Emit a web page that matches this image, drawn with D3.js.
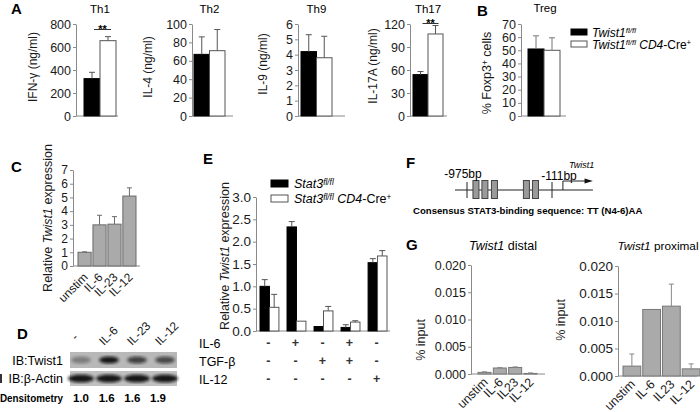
<!DOCTYPE html>
<html><head><meta charset="utf-8">
<script src="https://cdn.jsdelivr.net/npm/d3@7"></script>
<style>body{margin:0;background:#fff}svg{font-family:"Liberation Sans",Arial,sans-serif}</style>
</head><body>
<svg id="c" width="700" height="412"></svg>
<script>
// ---------------- DATA ----------------
const aTitles = ["Th1", "Th2", "Th9", "Th17"];
const aYLabels = ["IFN-γ (ng/ml)", "IL-4 (ng/ml)", "IL-9 (ng/ml)", "IL-17A  (ng/ml)"];
const aFlox = [325, 67, 4.2, 54];
const aFloxErr = [55, 19, 1.1, 4];
const aCre = [655, 71, 3.8, 107];
const aCreErr = [35, 23, 1.4, 11];
const aTicks = [[0, 200, 400, 600, 800], [0, 20, 40, 60, 80, 100], [0, 1, 2, 3, 4, 5, 6], [0, 30, 60, 90, 120]];
const aSig = ["**", "", "", "**"];
const seriesAB = ["flox", "cre"];

const bTitle = "Treg";
const bValues = [51, 50];
const bErr = [10, 9.5];
const bTicks = [0, 10, 20, 30, 40, 50, 60, 70];

const cCats = ["unstim", "IL-6", "IL-23", "IL-12"];
const cValues = [1.0, 3.0, 3.05, 5.1];
const cErr = [0.03, 0.7, 0.55, 0.6];
const cTicks = [0, 1, 2, 3, 4, 5, 6, 7];

const dLanes = ["-", "IL-6", "IL-23", "IL-12"];
const dDensitometry = ["1.0", "1.6", "1.6", "1.9"];
const dTwistBand = [0.35, 0.95, 0.7, 0.65];

const eIL6 = ["-", "+", "-", "+", "-"];
const eTGF = ["-", "-", "+", "+", "-"];
const eIL12 = ["-", "-", "-", "-", "+"];
const eFlox = [1.0, 2.33, 0.1, 0.08, 1.53];
const eFloxErr = [0.15, 0.12, 0, 0.06, 0.09];
const eCre = [0.53, 0.22, 0.45, 0.2, 1.68];
const eCreErr = [0.29, 0, 0.1, 0.03, 0.12];
const eTicks = [0, 0.5, 1.0, 1.5, 2.0, 2.5, 3.0];

const fMarks = [-975, -111];
const fSites = [-884, -793, -696, -371, -279];

const gCats = ["unstim", "IL-6", "IL23", "IL-12"];
const gDistal = [0.0003, 0.0011, 0.0012, 0.0001];
const gDistalErr = [0.0001, 0.0001, 0.0001, 0.0001];
const gProximal = [0.0018, 0.0121, 0.0127, 0.0013];
const gProximalErr = [0.0022, 0, 0.004, 0.0009];
const gTicks = [0, 0.005, 0.010, 0.015, 0.020];

// ---------------- HELPERS ----------------
const svg = d3.select("#c");
const AX = "#8a8a8a";

function rich(t, parts) {
  let shift = 0;
  parts.forEach(p => {
    const ts = t.append("tspan").text(p.t);
    if (p.i) ts.attr("font-style", "italic");
    if (p.b) ts.attr("font-weight", "bold");
    const target = p.sup ? -3.5 : 0;
    if (target !== shift) { ts.attr("dy", target - shift); shift = target; }
    if (p.sup) ts.attr("font-size", "0.66em");
  });
  return t;
}
function letter(x, y, s) {
  svg.append("text").attr("x", x).attr("y", y).attr("font-weight", "bold").attr("font-size", 15).text(s);
}
function yAxis(x, y, ticks, fmt, fs) {
  const g = svg.append("g").attr("transform", `translate(${x},0)`)
    .call(d3.axisLeft(y).tickValues(ticks).tickSizeInner(3).tickSizeOuter(0).tickPadding(2).tickFormat(fmt));
  g.select(".domain").attr("stroke", AX);
  g.selectAll(".tick line").attr("stroke", AX);
  g.selectAll(".tick text").attr("font-size", fs).attr("fill", "#1a1a1a").attr("font-family", null);
  return g;
}
function baseline(x0, x1, yy) {
  svg.append("line").attr("x1", x0).attr("x2", x1).attr("y1", yy).attr("y2", yy).attr("stroke", AX);
}
function err(cx, y, v, e, color, cap) {
  if (!e) return;
  svg.append("line").attr("x1", cx).attr("x2", cx).attr("y1", y(v)).attr("y2", y(v + e)).attr("stroke", color);
  svg.append("line").attr("x1", cx - cap).attr("x2", cx + cap).attr("y1", y(v + e)).attr("y2", y(v + e)).attr("stroke", color);
}
function yLabel(x, y, fs, parts) {
  const t = svg.append("text").attr("transform", `translate(${x},${y}) rotate(-90)`)
    .attr("text-anchor", "middle").attr("font-size", fs).attr("fill", "#1a1a1a");
  rich(t, parts);
}
function rotLabels(xs, cats, yy, fs) {
  cats.forEach((c, i) => {
    svg.append("text").attr("transform", `translate(${xs(c) + xs.bandwidth() / 2 + 4},${yy}) rotate(-45)`)
      .attr("text-anchor", "end").attr("font-size", fs).attr("fill", "#1a1a1a").text(c);
  });
}

// ---------------- PANEL A ----------------
letter(11, 14, "A");
const aLayout = [
  { ax: 76, x0: 84, x1: 116, end: 118, lab: 37, ly: 67, sy: 29.5 },
  { ax: 192, x0: 194, x1: 225, end: 233, lab: 152, ly: 67 },
  { ax: 298, x0: 301, x1: 332, end: 345, lab: 267, ly: 64 },
  { ax: 410, x0: 413, x1: 443, end: 447, lab: 377, ly: 66, sy: 23.5 }
];
aTitles.forEach((title, i) => {
  const L = aLayout[i];
  const y = d3.scaleLinear().domain([0, d3.max(aTicks[i])]).range([116, 24]);
  const x = d3.scaleBand().domain(seriesAB).range([L.x0, L.x1]);
  yAxis(L.ax, y, aTicks[i], d3.format("d"), 12.5);
  baseline(L.ax, L.end, y(0));
  const vals = [aFlox[i], aCre[i]], errs = [aFloxErr[i], aCreErr[i]];
  seriesAB.forEach((s, j) => {
    svg.append("rect").attr("x", x(s)).attr("width", x.bandwidth()).attr("y", y(vals[j]))
      .attr("height", y(0) - y(vals[j])).attr("fill", j ? "#fff" : "#000").attr("stroke", j ? "#555" : "#000");
    err(x(s) + x.bandwidth() / 2, y, vals[j], errs[j], "#555", 3);
  });
  svg.append("text").attr("x", (L.x0 + L.x1) / 2).attr("y", 13).attr("text-anchor", "middle").attr("font-size", 11.5).text(title);
  yLabel(L.lab, L.ly, 12, [{ t: aYLabels[i] }]);
  if (aSig[i]) {
    const sx0 = x("flox") + x.bandwidth() / 2 + 2, sx1 = x("cre") + x.bandwidth() / 2 + 3;
    const sy = L.sy;
    svg.append("line").attr("x1", sx0).attr("x2", sx1).attr("y1", sy).attr("y2", sy).attr("stroke", "#333");
    svg.append("text").attr("x", (sx0 + sx1) / 2).attr("y", sy + 3).attr("text-anchor", "middle")
      .attr("font-size", 11).attr("font-weight", "bold").text(aSig[i]);
  }
});

// ---------------- PANEL B ----------------
letter(477, 16, "B");
{
  const y = d3.scaleLinear().domain([0, 70]).range([116, 24]);
  const x = d3.scaleBand().domain(seriesAB).range([528, 560]);
  yAxis(521, y, bTicks, d3.format("d"), 12.5);
  baseline(521, 566, y(0));
  seriesAB.forEach((s, j) => {
    svg.append("rect").attr("x", x(s)).attr("width", x.bandwidth()).attr("y", y(bValues[j]))
      .attr("height", y(0) - y(bValues[j])).attr("fill", j ? "#fff" : "#000").attr("stroke", j ? "#555" : "#000");
    err(x(s) + x.bandwidth() / 2, y, bValues[j], bErr[j], "#777", 3);
  });
  svg.append("text").attr("x", 545).attr("y", 12).attr("text-anchor", "middle").attr("font-size", 11.5).text(bTitle);
  yLabel(491, 73, 12.5, [{ t: "% Foxp3" }, { t: "+", sup: true }, { t: " cells" }]);
  const lg = [[{ t: "Twist1", i: 1 }, { t: "fl/fl", i: 1, sup: 1 }],
              [{ t: "Twist1", i: 1 }, { t: "fl/fl", i: 1, sup: 1 }, { t: " CD4", i: 1 }, { t: "-Cre" }, { t: "+", sup: 1 }]];
  lg.forEach((p, j) => {
    svg.append("rect").attr("x", 571).attr("y", 29 + j * 12).attr("width", 16).attr("height", 6)
      .attr("fill", j ? "#fff" : "#000").attr("stroke", j ? "#555" : "#000");
    rich(svg.append("text").attr("x", 592).attr("y", 36.5 + j * 12).attr("font-size", 12), p);
  });
}

// ---------------- PANEL C ----------------
letter(11, 172, "C");
{
  const y = d3.scaleLinear().domain([0, 7]).range([266, 170]);
  const x = d3.scaleBand().domain(cCats).range([78, 136]).paddingInner(0.12);
  yAxis(73, y, cTicks, d3.format("d"), 12);
  baseline(73, 140, y(0));
  cCats.forEach((c, i) => {
    svg.append("rect").attr("x", x(c)).attr("width", x.bandwidth()).attr("y", y(cValues[i]))
      .attr("height", y(0) - y(cValues[i])).attr("fill", "#aaaaaa").attr("stroke", "#6a6a6a");
    err(x(c) + x.bandwidth() / 2, y, cValues[i], cErr[i], "#6a6a6a", 2.5);
  });
  rotLabels(x, cCats, 278, 12);
  yLabel(52, 218, 12.5, [{ t: "Relative " }, { t: "Twist1", i: 1 }, { t: " expression" }]);
}

// ---------------- PANEL D ----------------
letter(17, 339, "D");
{
  const defs = svg.append("defs");
  defs.append("filter").attr("id", "blur").append("feGaussianBlur").attr("stdDeviation", 1.6);
  const lane = d3.scaleBand().domain(dLanes).range([67, 179]);
  svg.append("rect").attr("x", 70).attr("y", 352).attr("width", 107).attr("height", 16).attr("fill", "#b8b8b8");
  svg.append("rect").attr("x", 70).attr("y", 371).attr("width", 107).attr("height", 15).attr("fill", "#c0c0c0");
  dLanes.forEach((l, i) => {
    const cx = lane(l) + lane.bandwidth() / 2;
    svg.append("ellipse").attr("cx", cx).attr("cy", 360).attr("rx", 10).attr("ry", 3.5)
      .attr("fill", "#111").attr("opacity", dTwistBand[i]).attr("filter", "url(#blur)");
    svg.append("ellipse").attr("cx", cx).attr("cy", 378.5).attr("rx", 13).attr("ry", 4)
      .attr("fill", "#111").attr("opacity", 0.95).attr("filter", "url(#blur)");
    svg.append("text").attr("transform", `translate(${cx - 5},${l === "-" ? 341 : 346}) rotate(-45)`)
      .attr("font-size", 12).attr("fill", "#1a1a1a").text(l);
  });
  svg.append("text").attr("x", 63).attr("y", 365).attr("text-anchor", "end").attr("font-size", 12.5).text("IB:Twist1");
  svg.append("text").attr("x", 63).attr("y", 383).attr("text-anchor", "end").attr("font-size", 12.5).text("IB:β-Actin");
  svg.append("rect").attr("x", 0).attr("y", 374).attr("width", 2).attr("height", 9).attr("fill", "#333");
  svg.append("text").attr("x", 0).attr("y", 402).attr("font-size", 11).attr("font-weight", "bold")
    .attr("textLength", 63).attr("lengthAdjust", "spacingAndGlyphs").text("Densitometry");
  const dp = d3.scalePoint().domain(dLanes).range([81, 158]);
  dLanes.forEach((l, i) => {
    svg.append("text").attr("x", dp(l)).attr("y", 402).attr("text-anchor", "middle")
      .attr("font-size", 11.5).attr("font-weight", "bold").text(dDensitometry[i]);
  });
}

// ---------------- PANEL E ----------------
letter(203, 164, "E");
{
  const groups = d3.range(eFlox.length);
  const y = d3.scaleLinear().domain([0, 3]).range([331, 197]);
  const x = d3.scaleBand().domain(groups).range([260, 387]).paddingInner(0.3);
  const xi = d3.scaleBand().domain(seriesAB).range([0, x.bandwidth()]);
  yAxis(256, y, eTicks, d3.format(".1f"), 13.5);
  baseline(256, 390, y(0));
  groups.forEach(g => {
    const vals = [eFlox[g], eCre[g]], errs = [eFloxErr[g], eCreErr[g]];
    seriesAB.forEach((s, j) => {
      const bx = x(g) + xi(s);
      svg.append("rect").attr("x", bx).attr("width", xi.bandwidth()).attr("y", y(vals[j]))
        .attr("height", y(0) - y(vals[j])).attr("fill", j ? "#fff" : "#000").attr("stroke", j ? "#555" : "#000");
      err(bx + xi.bandwidth() / 2, y, vals[j], errs[j], "#555", 3);
    });
    const cx = x(g) + x.bandwidth() / 2 - 1;
    [[eIL6, 347], [eTGF, 365], [eIL12, 383]].forEach(([arr, yy]) => {
      svg.append("text").attr("x", cx).attr("y", yy).attr("text-anchor", "middle").attr("font-size", 12.5)
        .attr("font-weight", "bold").attr("fill", "#333").text(arr[g]);
    });
  });
  [["IL-6", 348], ["TGF-β", 366], ["IL-12", 384]].forEach(([t, yy]) => {
    svg.append("text").attr("x", 199).attr("y", yy).attr("font-size", 12.5).text(t);
  });
  yLabel(229, 256, 12.5, [{ t: "Relative  " }, { t: "Twist1", i: 1 }, { t: " expression" }]);
  const lg = [[{ t: "Stat3", i: 1 }, { t: "fl/fl", i: 1, sup: 1 }],
              [{ t: "Stat3", i: 1 }, { t: "fl/fl", i: 1, sup: 1 }, { t: " CD4", i: 1 }, { t: "-Cre" }, { t: "+", sup: 1 }]];
  lg.forEach((p, j) => {
    svg.append("rect").attr("x", 271).attr("y", 180 + j * 15).attr("width", 17).attr("height", 7)
      .attr("fill", j ? "#fff" : "#000").attr("stroke", j ? "#555" : "#000");
    rich(svg.append("text").attr("x", 294).attr("y", 188 + j * 15).attr("font-size", 12.5), p);
  });
}

// ---------------- PANEL F ----------------
letter(406, 168, "F");
{
  const fx = d3.scaleLinear().domain([fMarks[0], fMarks[1]]).range([467, 552]);
  const ly = 190;
  svg.append("line").attr("x1", fx(-1097)).attr("x2", fx(305)).attr("y1", ly).attr("y2", ly).attr("stroke", "#222");
  fMarks.forEach(m => {
    svg.append("line").attr("x1", fx(m)).attr("x2", fx(m)).attr("y1", 182).attr("y2", 198).attr("stroke", "#222");
  });
  fSites.forEach(s => {
    svg.append("rect").attr("x", fx(s) - 3).attr("width", 6).attr("y", 180.5).attr("height", 18)
      .attr("fill", "#9a9a9a").attr("stroke", "#444");
  });
  svg.append("text").attr("x", fx(-975) - 4).attr("y", 178).attr("text-anchor", "middle").attr("font-size", 12).text("-975bp");
  svg.append("text").attr("x", fx(-111) + 7).attr("y", 180).attr("text-anchor", "middle").attr("font-size", 12).text("-111bp");
  const t0 = fx(0);
  svg.append("path").attr("d", `M${t0},${ly} V181 H${fx(230)}`).attr("fill", "none").attr("stroke", "#222");
  svg.append("path").attr("d", `M${fx(220)},178.5 L${fx(305)},181 L${fx(220)},183.5 Z`).attr("fill", "#111");
  svg.append("text").attr("x", t0 + 6).attr("y", 168).attr("font-size", 9).attr("font-style", "italic").text("Twist1");
  svg.append("text").attr("x", 413).attr("y", 214).attr("font-size", 9.6).attr("font-weight", "bold")
    .text("Consensus STAT3-binding sequence: TT (N4-6)AA");
}

// ---------------- PANEL G ----------------
letter(406, 250, "G");
function gPanel(cfg) {
  const y = d3.scaleLinear().domain([0, 0.02]).range([cfg.bot, cfg.top]);
  const x = d3.scaleBand().domain(gCats).range(cfg.xr).paddingInner(cfg.pad);
  yAxis(cfg.ax, y, gTicks, d3.format(".3f"), cfg.fs);
  baseline(cfg.ax, cfg.end, y(0));
  gCats.forEach((c, i) => {
    svg.append("rect").attr("x", x(c)).attr("width", x.bandwidth()).attr("y", y(cfg.vals[i]))
      .attr("height", y(0) - y(cfg.vals[i])).attr("fill", "#aaaaaa").attr("stroke", "#777");
    err(x(c) + x.bandwidth() / 2, y, cfg.vals[i], cfg.errs[i], "#888", 2.5);
  });
  rotLabels(x, gCats, cfg.bot + 9, 12.5);
  yLabel(cfg.lx, cfg.ly, 12.5, [{ t: "% input" }]);
  rich(svg.append("text").attr("x", cfg.tx).attr("y", 250).attr("text-anchor", "middle").attr("font-size", cfg.tfs),
    [{ t: "Twist1", i: 1 }, { t: cfg.title }]);
}
gPanel({ top: 265, bot: 374, ax: 471, end: 545, xr: [478, 537], pad: 0.15, vals: gDistal, errs: gDistalErr,
  fs: 12.5, lx: 425, ly: 340, tx: 503, tfs: 12.5, title: " distal" });
gPanel({ top: 266, bot: 376, ax: 618, end: 697, xr: [623, 700], pad: 0.1, vals: gProximal, errs: gProximalErr,
  fs: 13.5, lx: 565, ly: 320, tx: 658, tfs: 11.8, title: " proximal" });
</script>
</body></html>
